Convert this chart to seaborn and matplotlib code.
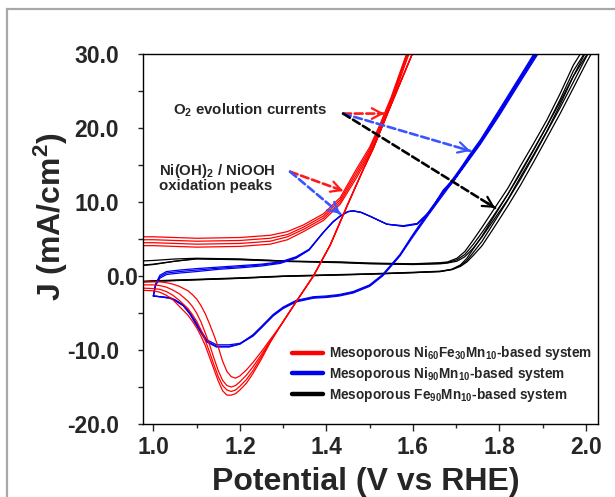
import numpy as np
import pandas as pd
import matplotlib
matplotlib.use("Agg")
import matplotlib.pyplot as plt
import matplotlib.transforms as mtransforms
from matplotlib.lines import Line2D
from matplotlib.patches import Rectangle
import seaborn as sns

# ---------------- data ----------------
# Ni60Fe30Mn10 : anodic (upper) branch, 4 cycles
red_up_V = [0.96, 1.00, 1.10, 1.20, 1.27, 1.31, 1.347, 1.393, 1.432, 1.47, 1.50, 1.524, 1.55, 1.587, 1.62]
red_up_J = [
    [5.3, 5.3, 5.1, 5.2, 5.5, 6.0, 6.9, 8.4, 10.6, 14.5, 17.4, 20.5, 24.2, 30.3, 35.0],
    [4.9, 4.9, 4.7, 4.8, 5.1, 5.6, 6.6, 8.1, 10.3, 14.1, 17.1, 20.2, 23.9, 30.0, 34.7],
    [4.5, 4.5, 4.3, 4.4, 4.7, 5.3, 6.3, 7.8, 10.0, 13.7, 16.8, 19.9, 23.6, 29.7, 34.4],
    [4.1, 4.1, 3.9, 4.0, 4.3, 4.9, 6.0, 7.5, 9.7, 13.3, 16.5, 19.6, 23.3, 29.4, 34.1],
]
# steep return branch (shared)
red_steep_V = [1.62, 1.60, 1.55, 1.508, 1.486, 1.448, 1.409, 1.37, 1.331, 1.293]
red_steep_J = [32.8, 30.2, 23.2, 17.2, 14.5, 9.5, 4.2, 0.0, -3.4, -6.8]
# cathodic (reduction) peaks, 4 cycles
red_cat_V = [1.293, 1.27, 1.25, 1.23, 1.215, 1.20, 1.19, 1.18, 1.17, 1.16, 1.15, 1.14, 1.13,
             1.12, 1.11, 1.10, 1.09, 1.08, 1.06, 1.045, 1.03, 1.015, 1.00, 0.96]
red_cat_J = [
    [-6.8, -9.0, -11.2, -13.2, -14.5, -15.4, -15.9, -16.1, -16.1, -15.5, -14.2, -12.6, -11.0,
     -9.4, -8.1, -7.0, -6.1, -5.3, -4.1, -3.2, -2.6, -2.2, -2.0, -1.9],
    [-6.8, -8.9, -10.9, -12.8, -14.0, -14.9, -15.4, -15.6, -15.4, -14.8, -13.6, -12.0, -10.3,
     -8.7, -7.3, -6.1, -5.2, -4.4, -3.3, -2.6, -2.1, -1.8, -1.7, -1.6],
    [-6.8, -8.8, -10.6, -12.3, -13.4, -14.3, -14.8, -15.0, -14.8, -14.1, -12.8, -11.1, -9.3,
     -7.7, -6.2, -5.0, -4.1, -3.4, -2.4, -1.9, -1.5, -1.3, -1.2, -1.2],
    [-6.8, -8.6, -10.2, -11.7, -12.7, -13.5, -13.8, -13.6, -12.9, -11.5, -9.6, -8.0, -6.5,
     -5.1, -4.0, -3.1, -2.5, -2.0, -1.4, -1.1, -0.9, -0.8, -0.8, -0.8],
]

# Ni90Mn10 : forward and reverse scans, 3 cycles
blue_fw_V = [1.0, 1.005, 1.015, 1.03, 1.06, 1.10, 1.15, 1.20, 1.25, 1.293, 1.33, 1.36, 1.393, 1.415,
             1.432, 1.45, 1.462, 1.48, 1.50, 1.54, 1.578, 1.61, 1.64, 1.67, 1.694, 1.73, 1.756,
             1.80, 1.85, 1.888, 1.91]
blue_fw_J = [
    [-2.7, -1.3, -0.3, 0.2, 0.4, 0.6, 0.9, 1.1, 1.35, 1.7, 2.4, 3.5, 5.9, 7.3, 8.1, 8.7, 8.8, 8.6,
     8.1, 7.0, 6.7, 7.0, 8.7, 11.4, 12.8, 15.9, 18.0, 22.1, 26.8, 30.4, 32.5],
    [-2.7, -1.1, 0.1, 0.6, 0.8, 1.0, 1.2, 1.4, 1.6, 1.9, 2.6, 3.6, 5.9, 7.3, 8.1, 8.7, 8.8, 8.6,
     8.1, 7.0, 6.8, 7.1, 8.8, 11.6, 13.1, 16.3, 18.4, 22.5, 27.2, 30.8, 32.9],
    [-2.7, -1.2, -0.1, 0.4, 0.6, 0.8, 1.05, 1.25, 1.5, 1.8, 2.5, 3.55, 5.9, 7.3, 8.1, 8.7, 8.8,
     8.6, 8.1, 7.0, 6.75, 7.05, 8.75, 11.5, 12.95, 16.1, 18.2, 22.3, 27.0, 30.6, 32.7],
]
blue_rv_V = [1.91, 1.888, 1.85, 1.80, 1.756, 1.72, 1.678, 1.64, 1.60, 1.57, 1.53, 1.50, 1.462,
             1.43, 1.40, 1.37, 1.33, 1.30, 1.277, 1.25, 1.231, 1.20, 1.175, 1.146, 1.123, 1.10,
             1.085, 1.069, 1.05, 1.038, 1.015, 1.0]
blue_rv_J = [
    [32.0, 29.9, 26.4, 21.7, 17.8, 14.9, 11.6, 8.6, 5.3, 2.7, 0.0, -1.4, -2.3, -2.7, -2.9, -3.0,
     -3.5, -4.4, -5.4, -7.0, -8.1, -9.2, -9.5, -9.5, -8.8, -6.6, -5.1, -4.0, -3.3, -3.0, -2.8, -2.7],
    [32.2, 30.1, 26.6, 21.9, 18.0, 15.1, 11.8, 8.8, 5.5, 2.8, 0.1, -1.3, -2.2, -2.6, -2.8, -2.9,
     -3.4, -4.3, -5.3, -6.9, -8.0, -9.1, -9.3, -9.3, -8.6, -6.4, -5.0, -3.9, -3.2, -2.9, -2.8, -2.7],
    [32.4, 30.3, 26.8, 22.1, 18.2, 15.3, 12.0, 9.0, 5.6, 2.9, 0.2, -1.2, -2.1, -2.5, -2.7, -2.8,
     -3.3, -4.2, -5.2, -6.8, -7.9, -9.2, -9.6, -9.6, -8.9, -6.7, -5.2, -4.0, -3.3, -3.0, -2.8, -2.7],
]

# Fe90Mn10 : forward and reverse scans, 3 cycles
black_fw_V = [0.96, 1.0, 1.1, 1.2, 1.3, 1.4, 1.5, 1.6, 1.663, 1.69, 1.71, 1.725, 1.74, 1.76,
              1.786, 1.82, 1.849, 1.88, 1.91, 1.94, 1.971, 2.0, 2.03]
black_fw_J = [
    [-0.8, -0.7, -0.5, -0.3, -0.05, 0.1, 0.25, 0.45, 0.6, 0.9, 1.5, 2.4, 3.7, 5.4, 7.9, 11.1,
     13.9, 17.1, 20.3, 23.5, 27.0, 30.3, 33.5],
    [-0.75, -0.65, -0.45, -0.25, 0.0, 0.15, 0.3, 0.5, 0.65, 0.9, 1.4, 2.1, 3.2, 4.7, 7.1, 10.3,
     13.1, 16.3, 19.5, 22.7, 26.2, 29.5, 32.7],
    [-0.85, -0.72, -0.52, -0.32, -0.05, 0.1, 0.25, 0.45, 0.6, 0.85, 1.3, 1.9, 2.8, 4.1, 6.4, 9.5,
     12.3, 15.5, 18.7, 21.9, 25.4, 28.7, 31.9],
]
black_rv_V = [2.03, 2.0, 1.971, 1.94, 1.91, 1.88, 1.849, 1.82, 1.786, 1.76, 1.74, 1.72, 1.702,
              1.68, 1.663, 1.6, 1.5, 1.432, 1.316, 1.2, 1.1, 1.05, 1.0, 0.96]
black_rv_J = [
    [34.5, 31.2, 28.5, 24.6, 21.1, 18.0, 14.9, 11.9, 8.9, 6.6, 4.9, 3.3, 2.4, 1.9, 1.8, 1.65,
     1.75, 1.9, 2.0, 2.3, 2.4, 2.3, 2.1, 2.0],
    [33.7, 30.4, 27.7, 23.8, 20.3, 17.2, 14.1, 11.1, 8.1, 5.9, 4.3, 2.9, 2.2, 1.8, 1.7, 1.6,
     1.7, 1.85, 2.0, 2.25, 2.35, 2.0, 1.6, 1.4],
    [33.0, 29.7, 27.0, 23.1, 19.6, 16.5, 13.4, 10.4, 7.5, 5.3, 3.8, 2.6, 2.0, 1.75, 1.65, 1.55,
     1.65, 1.8, 1.95, 2.2, 2.3, 2.0, 1.55, 1.35],
]

systems = ["Mesoporous Ni$_{60}$Fe$_{30}$Mn$_{10}$-based system",
           "Mesoporous Ni$_{90}$Mn$_{10}$-based system",
           "Mesoporous Fe$_{90}$Mn$_{10}$-based system"]
colors = ["#ff0000", "#0000f0", "#000000"]

x_ticks = [1.0, 1.2, 1.4, 1.6, 1.8, 2.0]
y_ticks = [-20.0, -10.0, 0.0, 10.0, 20.0, 30.0]

# ---------------- build long table ----------------
rows = []
def add(system, cyc, Vs, Js):
    for k, (v, j) in enumerate(zip(Vs, Js)):
        rows.append(dict(system=system, unit=f"{system}|{cyc}", V=v, J=j, order=k))

for c in range(4):
    add(systems[0], c, red_up_V + red_steep_V + red_cat_V,
        red_up_J[c] + red_steep_J + red_cat_J[c])
for c in range(3):
    add(systems[1], c, blue_fw_V + blue_rv_V, blue_fw_J[c] + blue_rv_J[c])
for c in range(3):
    add(systems[2], c, black_fw_V + black_rv_V, black_fw_J[c] + black_rv_J[c])
df = pd.DataFrame(rows)

# ---------------- style ----------------
sns.set_style("white")
plt.rcParams["font.family"] = ["Liberation Sans", "DejaVu Sans"]
plt.rcParams["font.weight"] = "bold"
plt.rcParams["axes.labelweight"] = "bold"
plt.rcParams["mathtext.fontset"] = "custom"
plt.rcParams["mathtext.rm"] = "Liberation Sans:bold"
plt.rcParams["mathtext.bf"] = "Liberation Sans:bold"
plt.rcParams["mathtext.it"] = "Liberation Sans:bold"
plt.rcParams["mathtext.default"] = "rm"
plt.rcParams["axes.unicode_minus"] = False

fig = plt.figure(figsize=(6.15, 4.97), dpi=100)
ax = fig.add_axes([143 / 615, 1 - 424 / 497, 455 / 615, 370 / 497])

for sysname, col in [(systems[2], colors[2]), (systems[1], colors[1]), (systems[0], colors[0])]:
    sub = df[df.system == sysname]
    sns.lineplot(data=sub, x="V", y="J", units="unit", estimator=None, sort=False,
                 color=col, linewidth=0.9, legend=False, ax=ax)

ax.set_xlim(0.976, 2.028)
ax.set_ylim(-20, 30)
ax.set_xticks(x_ticks)
ax.set_xticks(np.arange(1.1, 2.0, 0.2), minor=True)
ax.set_yticks(y_ticks)
ax.set_yticks([-15, -5, 5, 15, 25], minor=True)
ax.set_xticklabels([f"{t:.1f}" for t in x_ticks])
ax.set_yticklabels([f"{t:.1f}" for t in y_ticks])

for s in ax.spines.values():
    s.set_visible(True)
    s.set_color("black")
    s.set_linewidth(1.0)

ax.tick_params(axis="x", which="major", direction="out", length=5, width=1, pad=3.5,
               labelsize=16.5, bottom=True, top=False)
ax.tick_params(axis="x", which="minor", direction="out", length=3, width=1, bottom=True, top=False)
ax.tick_params(axis="y", which="both", direction="out", length=3.8, width=1, pad=13.5,
               labelsize=16.5, left=True, right=False)

# the 0.0 label sits close to the axis in the reference
zero_tick = ax.yaxis.get_major_ticks()[y_ticks.index(0.0)]
zero_tick.label1.set_transform(zero_tick.label1.get_transform() +
                               mtransforms.ScaledTranslation(19 / 100, 0, fig.dpi_scale_trans))

ax.set_xlabel("Potential (V vs RHE)", fontsize=23, fontweight="bold")
ax.set_ylabel("J (mA/cm$^{2}$)", fontsize=23, fontweight="bold")
ax.xaxis.label.set_va("center")
ax.yaxis.label.set_va("center")
ax.xaxis.set_label_coords(0.49, -0.157)
ax.yaxis.set_label_coords(-0.202, 0.56)

# ---------------- legend ----------------
handles = [Line2D([0], [0], color=c, lw=3.2) for c in colors]
ax.legend(handles, systems, loc="upper left", bbox_to_anchor=(0.3275, 0.215),
          frameon=False, fontsize=9.8, handlelength=2.25, handletextpad=0.45,
          labelspacing=0.2, borderpad=0, borderaxespad=0)

# ---------------- annotations ----------------
ax.text(1.045, 22.4, "O$_{2}$ evolution currents", fontsize=10.8, fontweight="bold",
        ha="left", va="center")
ax.text(1.012, 13.3, "Ni(OH)$_{2}$ / NiOOH\noxidation peaks", fontsize=10.8,
        fontweight="bold", ha="left", va="center", linespacing=0.95)

def dashed_arrow(start, end, color):
    ax.annotate("", xy=end, xytext=start,
                arrowprops=dict(arrowstyle="-", color=color, lw=1.9, ls=(0, (3.0, 1.4)),
                                shrinkA=0, shrinkB=0))
    hs = (end[0] - 0.06 * (end[0] - start[0]), end[1] - 0.06 * (end[1] - start[1]))
    ax.annotate("", xy=end, xytext=hs,
                arrowprops=dict(arrowstyle="->,head_length=0.6,head_width=0.32", color=color,
                                lw=1.6, shrinkA=0, shrinkB=0, mutation_scale=12))

o2_start = (1.4387, 21.95)
dashed_arrow(o2_start, (1.5336, 21.95), "#ff1a1a")
dashed_arrow(o2_start, (1.733, 16.9), "#3a55ff")
dashed_arrow(o2_start, (1.790, 9.2), "#000000")
ni_start = (1.316, 14.1)
dashed_arrow(ni_start, (1.439, 11.5), "#ff1a1a")
dashed_arrow(ni_start, (1.432, 8.4), "#3a55ff")

# grey frame of the original figure
fig.patches.append(Rectangle((7 / 615, -0.05), 1.2, 1 - 9 / 497 + 0.05, transform=fig.transFigure,
                             fill=False, ec="#a8a8a8", lw=1.6))

fig.savefig("out.png", dpi=100)
